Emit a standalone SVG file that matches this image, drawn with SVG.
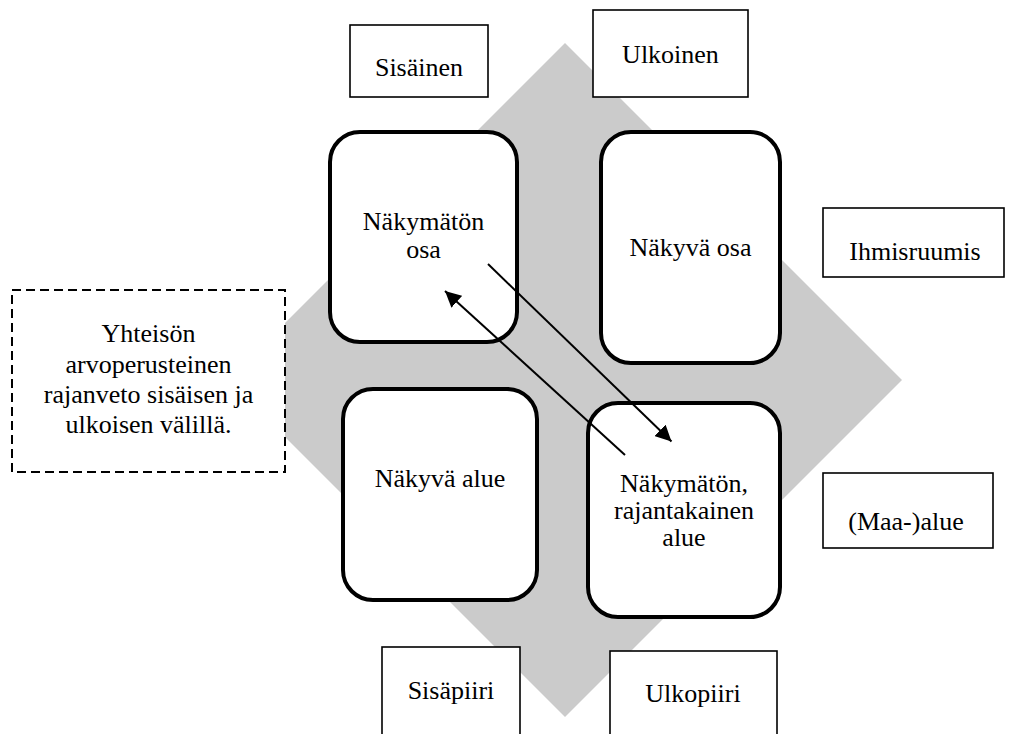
<svg xmlns="http://www.w3.org/2000/svg" width="1012" height="734" viewBox="0 0 1012 734">
<defs>
<style>
.t{font-family:"Liberation Serif","Times New Roman",serif;font-size:26px;fill:#000;text-anchor:middle}
.lb{fill:#fff;stroke:#000;stroke-width:1.6}
.rb{fill:#fff;stroke:#000;stroke-width:4}
.ds{fill:#fff;stroke:#000;stroke-width:2;stroke-dasharray:9 5}
.ar{stroke:#000;stroke-width:2;fill:none}
</style>
<marker id="ah" viewBox="0 0 10 10" refX="10" refY="5" markerWidth="16" markerHeight="16" markerUnits="userSpaceOnUse" orient="auto">
<path d="M0,0 L10,5 L0,10 z" fill="#000"/>
</marker>
</defs>
<rect width="1012" height="734" fill="#fff"/>
<polygon id="diamond" points="565,43 902,380 565,717 228,380" fill="#cbcbcb"/>
<g id="sisainen"><rect class="lb" x="350" y="25" width="138" height="72"/><text class="t" x="419" y="76">Sisäinen</text></g>
<g id="ulkoinen"><rect class="lb" x="593" y="10" width="155" height="87"/><text class="t" x="670.5" y="63">Ulkoinen</text></g>
<g id="ihmisruumis"><rect class="lb" x="823" y="208" width="181" height="69"/><text class="t" x="915" y="260">Ihmisruumis</text></g>
<g id="maa-alue"><rect class="lb" x="823" y="473" width="170" height="75"/><text class="t" x="906" y="530">(Maa-)alue</text></g>
<g id="sisapiiri"><rect class="lb" x="382" y="647" width="138" height="95"/><text class="t" x="451" y="699">Sisäpiiri</text></g>
<g id="ulkopiiri"><rect class="lb" x="610" y="651" width="167" height="95"/><text class="t" x="693" y="702">Ulkopiiri</text></g>
<g id="yhteison"><rect class="ds" x="12" y="290" width="273" height="182"/>
<text class="t" x="148.5" y="342">Yhteisön</text>
<text class="t" x="148.5" y="373">arvoperusteinen</text>
<text class="t" x="148.5" y="403">rajanveto sisäisen ja</text>
<text class="t" x="148.5" y="433">ulkoisen välillä.</text></g>
<g id="nakymaton-osa"><rect class="rb" x="330" y="132" width="187" height="210" rx="30"/>
<text class="t" x="423.5" y="230">Näkymätön</text><text class="t" x="423.5" y="258">osa</text></g>
<g id="nakyva-osa"><rect class="rb" x="601" y="132" width="179" height="231" rx="30"/>
<text class="t" x="690.5" y="256">Näkyvä osa</text></g>
<g id="nakyva-alue"><rect class="rb" x="343" y="389" width="194" height="211" rx="30"/>
<text class="t" x="440" y="487">Näkyvä alue</text></g>
<g id="rajantakainen"><rect class="rb" x="588" y="403" width="192" height="214" rx="30"/>
<text class="t" x="684" y="492">Näkymätön,</text><text class="t" x="684" y="519">rajantakainen</text><text class="t" x="684" y="546">alue</text></g>
<g id="connectors">
<line class="ar" x1="488" y1="264" x2="671.5" y2="441.5" marker-end="url(#ah)"/>
<line class="ar" x1="625" y1="455" x2="445" y2="291" marker-end="url(#ah)"/>
</g>
</svg>
